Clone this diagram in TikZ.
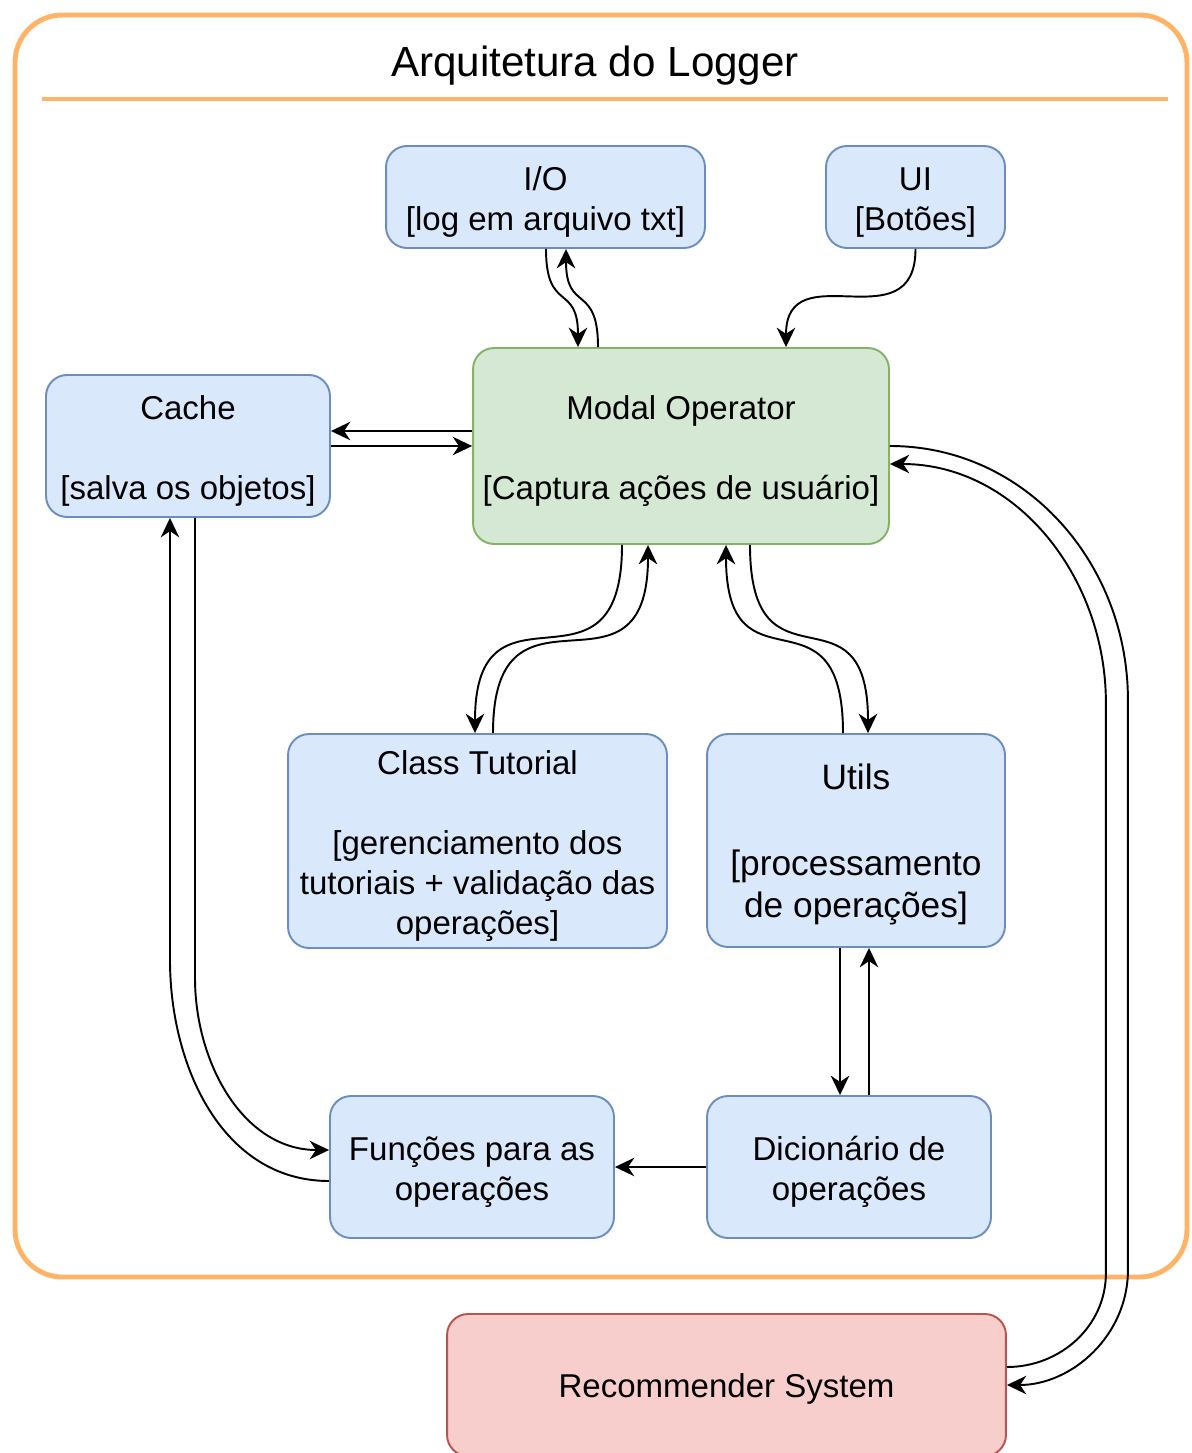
\documentclass[tikz,border=0pt]{standalone}
\usepackage{fontspec}
\setmainfont{Liberation Sans}
\usetikzlibrary{arrows.meta,calc}
\definecolor{frameorange}{RGB}{255,179,102}
\definecolor{boxblue}{RGB}{218,232,252}
\definecolor{boxblueline}{RGB}{108,142,191}
\definecolor{boxgreen}{RGB}{213,232,212}
\definecolor{boxgreenline}{RGB}{130,179,102}
\definecolor{boxred}{RGB}{248,206,204}
\definecolor{boxredline}{RGB}{184,84,80}
\newcommand\tstrut{\rule{0pt}{19.5pt}}

\begin{document}
\begin{tikzpicture}[x=0.02cm,y=-0.02cm,
    blk/.style={draw=boxblueline,fill=boxblue,line width=1.1pt,rounded corners=0.42cm,
      align=center,inner sep=0pt,font={\fontsize{18.8}{22.7}\selectfont}},
    conn/.style={-{Stealth[length=11pt,width=10.5pt,inset=3.5pt]},line width=1.1pt}]
  \useasboundingbox (0,0) rectangle (1192,1453);
  \draw[frameorange,line width=2.8pt,rounded corners=0.95cm](15,15) rectangle (1187,1277);
  \draw[frameorange,line width=2pt](42,99)--(1168,99);
  \node[font={\fontsize{24}{29}\selectfont}] (title) at (595,66) {Arquitetura do Logger};

  \node[blk,minimum width=6.38cm,minimum height=2.04cm] (io) at (545.5,197) {\tstrut I/O\\{[}log em arquivo txt{]}};
  \node[blk,minimum width=3.58cm,minimum height=2.04cm] (ui) at (915.5,197) {\tstrut UI\\{[}Botões{]}};
  \node[blk,draw=boxgreenline,fill=boxgreen,minimum width=8.32cm,minimum height=3.92cm] (modal) at (681,446)
    {\tstrut Modal Operator\\[22.7pt]{[}Captura ações de usuário{]}};
  \node[blk,minimum width=5.68cm,minimum height=2.84cm] (cache) at (188,446) {\tstrut Cache\\[22.7pt]{[}salva os objetos{]}};
  \node[blk,minimum width=7.58cm,minimum height=4.28cm] (tut) at (477.5,841)
    {\tstrut Class Tutorial\\[22.7pt]{[}gerenciamento dos\\tutoriais + validação das\\operações{]}};
  \node[blk,minimum width=5.96cm,minimum height=4.26cm,font={\fontsize{20.1}{24.3}\selectfont}] (utils) at (856,840.5)
    {\tstrut Utils\\[24.3pt]{[}processamento\\de operações{]}};
  \node[blk,minimum width=5.68cm,minimum height=2.84cm] (func) at (472,1167) {\tstrut Funções para as\\operações};
  \node[blk,minimum width=5.68cm,minimum height=2.84cm] (dict) at (849,1167) {\tstrut Dicionário de\\operações};
  \node[blk,draw=boxredline,fill=boxred,minimum width=11.18cm,minimum height=2.84cm] (recsys) at (726.5,1385) {\rule{0pt}{18pt}Recommender System};

  \coordinate (ud) at ($(utils.south)+(-16,0)$);
  \coordinate (du) at ($(dict.north)+(20,0)$);
  \coordinate (cl) at ($(cache.south)+(-18,0)$);
  \draw[conn]($(io.south)+(0.5,0)$) to[out=-90,in=90,looseness=1.6] ($(modal.north)+(-103,0)$);
  \draw[conn]($(modal.north)+(-83,0)$) to[out=90,in=-90,looseness=1.6] ($(io.south)+(20.5,0)$);
  \draw[conn](ui.south) to[out=-90,in=90,looseness=1.5] ($(modal.north)+(105,0)$);
  \draw[conn]($(modal.west)+(0,-15)$)--($(cache.east)+(0,-15)$);
  \draw[conn](cache.east)--(modal.west);
  \draw[conn]($(modal.south)+(-59,0)$) to[out=-90,in=90,looseness=1.8] ($(tut.north)+(-2.5,0)$);
  \draw[conn]($(tut.north)+(15.5,0)$) to[out=90,in=-90,looseness=1.8] ($(modal.south)+(-33,0)$);
  \draw[conn]($(modal.south)+(69,0)$) to[out=-90,in=90,looseness=1.8] ($(utils.north)+(12,0)$);
  \draw[conn]($(utils.north)+(-13,0)$) to[out=90,in=-90,looseness=1.8] ($(modal.south)+(45,0)$);
  \draw[conn](ud)--(ud |- dict.north);
  \draw[conn](du)--(du |- utils.south);
  \draw[conn](dict.west)--(func.east);
  \draw[conn]($(cache.south)+(7,0)$)--++(0,460) to[out=-90,in=180] ($(func.west)+(0,-17)$);
  \draw[conn]($(func.west)+(0,14)$) to[out=180,in=-90] (cl |- 0,960)--(cl);
  \draw[conn](modal.east) to[out=0,in=90] ++(238,254)--++(0,570) to[out=-90,in=0] (recsys.east);
  \draw[conn]($(recsys.east)+(0,-18)$) to[out=0,in=-90] ++(99,-94)--++(0,-570) to[out=90,in=0] ($(modal.east)+(0,18)$);
\end{tikzpicture}
\end{document}
